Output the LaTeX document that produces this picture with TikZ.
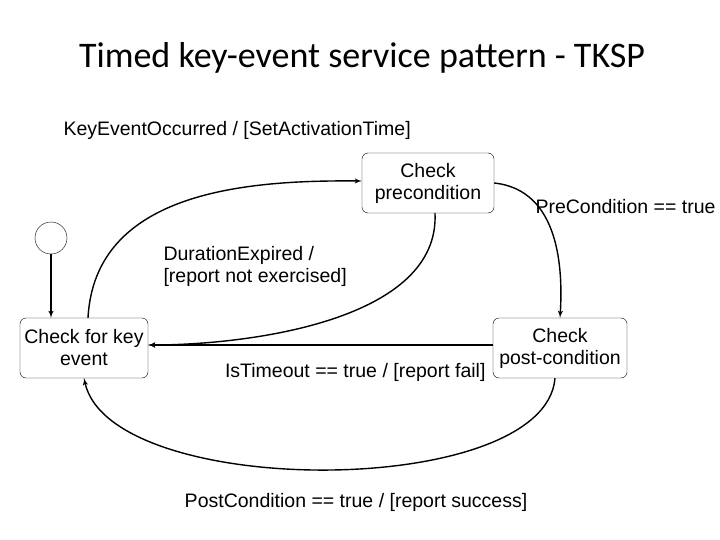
\documentclass[tikz,border=0pt]{standalone}
\usepackage{fontspec}
\setmainfont{Liberation Sans}
\newfontfamily\titlefont{Carlito}
\usetikzlibrary{arrows}

\begin{document}
\begin{tikzpicture}[x=1pt,y=-1pt]
	
	\tikzset{state/.style = {shape=rectangle,draw,rounded corners=6pt,inner xsep=1pt,minimum width=128pt,minimum height=60pt,align=center,font=\fontsize{19.5}{22}\selectfont}}
	\tikzset{edge/.style = {->,> = latex',line width=1.4pt}}
	\tikzset{lbl/.style = {font=\fontsize{19.5}{22}\selectfont,align=left}}
	
	\useasboundingbox (0,0) rectangle (720,540);
	
	\node[font=\titlefont\fontsize{36}{40}\selectfont] (title) at (362,58) {Timed key-event service pattern - TKSP};
	
	\node[shape=circle,draw,minimum size=32pt] (init) at (51,238) {};
	\node[state] (key) at (84,348) {Check for key\\event};
	\node[state,minimum width=132pt] (pre) at (428,183) {Check\\precondition};
	\node[state,minimum width=134pt] (post) at (560,348) {Check\\post-condition};
	
	\node[lbl,anchor=west] (l1) at (60,130) {KeyEventOccurred / [SetActivationTime]};
	\node[lbl,anchor=west] (l2) at (532,207) {PreCondition == true};
	\node[lbl,anchor=west] (l3) at (160,266) {DurationExpired /\\{}[report not exercised]};
	\node[lbl,anchor=east] (l4) at (489,372) {IsTimeout == true / [report fail]};
	\node[lbl] (l5) at (356,502) {PostCondition == true / [report success]};
	
	\coordinate (k1) at ([xshift=4pt]key.north);
	\coordinate (p1) at ([xshift=7pt]pre.south);
	\coordinate (q1) at ([xshift=-5pt]post.south);
	
	\draw[edge] (init) to (init |- key.north);
	\draw[edge] (k1) .. controls (95,190) and (250,180) .. ([yshift=2pt]pre.west);
	\draw[edge] (p1) .. controls (440,320) and (250,345) .. ([yshift=3pt]key.east);
	\draw[edge] (pre.east) .. controls (560,190) and (563,270) .. (post.north);
	\draw[edge] ([yshift=3pt]post.west) to ([yshift=3pt]key.east);
	\draw[edge] (q1) .. controls (545,500) and (110,500) .. (key.south);
	\end{tikzpicture}
\end{document}
